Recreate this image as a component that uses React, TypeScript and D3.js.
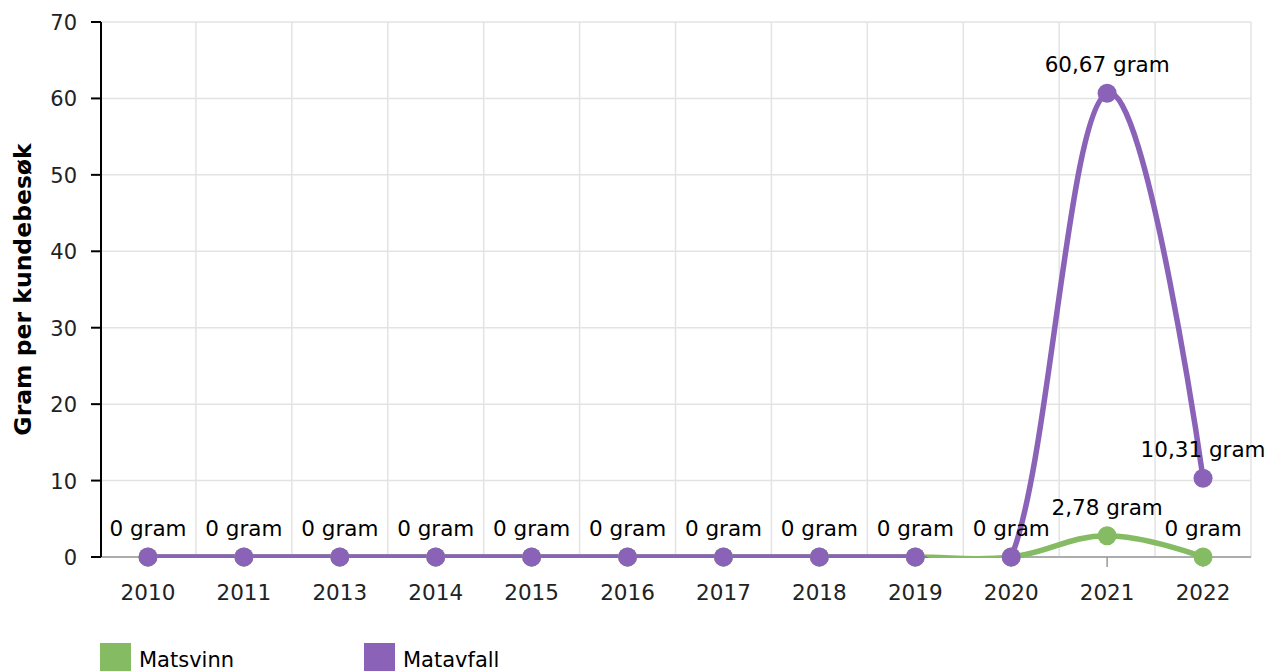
import React from "react";
import * as d3 from "d3";

const categories = ["2010", "2011", "2013", "2014", "2015", "2016", "2017", "2018", "2019", "2020", "2021", "2022"];
const matsvinn = [0, 0, 0, 0, 0, 0, 0, 0, 0, 0, 2.78, 0];
const matavfall = [0, 0, 0, 0, 0, 0, 0, 0, 0, 0, 60.67, 10.31];
const yTicks = [0, 10, 20, 30, 40, 50, 60, 70];
const seriesNames = ["Matsvinn", "Matavfall"];
const colors = ["#84bb63", "#8a62b7"];

const W = 1271, H = 671;
const left = 100, right = 1251, top = 22, bottom = 557;
const FONT = "'DejaVu Sans', Verdana, sans-serif";

function splinePath(pts: [number, number][]) {
  const smoothing = 1.5, denom = 2.5;
  const rc: ([number, number] | null)[] = [];
  let d = `M${pts[0][0]},${pts[0][1]}`;
  for (let i = 0; i < pts.length; i++) {
    const [x, y] = pts[i];
    let lcx = x, lcy = y;
    if (i > 0 && i < pts.length - 1) {
      const [lx, ly] = pts[i - 1];
      const [nx, ny] = pts[i + 1];
      lcx = (smoothing * x + lx) / denom;
      lcy = (smoothing * y + ly) / denom;
      const rcx = (smoothing * x + nx) / denom;
      let rcy = (smoothing * y + ny) / denom;
      let corr = 0;
      if (rcx !== lcx) corr = ((rcy - lcy) * (rcx - x)) / (rcx - lcx) + y - rcy;
      lcy += corr;
      rcy += corr;
      rc[i] = [rcx, rcy];
    } else rc[i] = null;
    if (i > 0) {
      const p = rc[i - 1] || pts[i - 1];
      d += `C${p[0]},${p[1]} ${lcx},${lcy} ${x},${y}`;
    }
  }
  return d;
}

export default function App() {
  const x = d3.scaleBand<string>().domain(categories).range([left, right]);
  const y = d3.scaleLinear().domain([0, 70]).range([bottom, top]);
  const cx = (c: string) => (x(c) as number) + x.bandwidth() / 2;
  const series = [matsvinn, matavfall];
  const pts = series.map((s) => s.map((v, i) => [cx(categories[i]), y(v)] as [number, number]));
  const fmt = (v: number) => `${d3.format(".2~f")(v).replace(".", ",")} gram`;

  const boundaries = categories.map((c) => x(c) as number).concat([right]);

  return (
    <svg width={W} height={H} style={{ position: "absolute", left: 0, top: 0, fontFamily: FONT }}>
      <defs>
        <clipPath id="plotclip">
          <rect x={left} y={0} width={right - left + 20} height={bottom + 1} />
        </clipPath>
      </defs>
      {/* grid */}
      {yTicks.map((t) => (
        <line key={"gy" + t} x1={left} x2={right} y1={y(t)} y2={y(t)} stroke="#e3e3e3" strokeWidth={1.5} />
      ))}
      {boundaries.slice(1).map((b, i) => (
        <line key={"gx" + i} x1={b} x2={b} y1={top} y2={bottom} stroke="#e3e3e3" strokeWidth={1.5} />
      ))}
      {/* x axis */}
      <line x1={left} x2={right} y1={bottom} y2={bottom} stroke="#999" strokeWidth={1.5} />
      {categories.map((c) => (
        <g key={"xt" + c}>
          <line x1={cx(c)} x2={cx(c)} y1={bottom} y2={bottom + 10} stroke="#999" strokeWidth={1.5} />
          <text x={cx(c)} y={600} textAnchor="middle" fontSize={21.5} fill="#222">{c}</text>
        </g>
      ))}
      {/* y axis */}
      <line x1={101} x2={101} y1={top} y2={bottom} stroke="#000" strokeWidth={2} />
      {yTicks.map((t) => (
        <g key={"yt" + t}>
          <line x1={91} x2={101} y1={y(t)} y2={y(t)} stroke="#000" strokeWidth={2} />
          <text x={77} y={y(t) + 8} textAnchor="end" fontSize={21} fill="#222">{t}</text>
        </g>
      ))}
      <text transform={`translate(31,${(top + bottom) / 2}) rotate(-90)`} textAnchor="middle" fontSize={23.5} fontWeight="bold" fill="#000">
        Gram per kundebesøk
      </text>
      {/* lines */}
      <g clipPath="url(#plotclip)">
        {pts.map((p, si) => (
          <path key={"l" + si} d={splinePath(p)} fill="none" stroke={colors[si]} strokeWidth={5.5} strokeLinecap="round" strokeLinejoin="round" />
        ))}
      </g>
      {pts.map((p, si) => (
        <g key={"m" + si}>
          {p.map(([px, py], i) => (
            <circle key={i} cx={px} cy={py} r={9.5} fill={colors[si]} />
          ))}
        </g>
      ))}
      {/* data labels */}
      {series.map((s, si) => (
        <g key={"dl" + si}>
          {s.map((v, i) => {
            const py = y(v);
            if (si === 0 && Math.abs(py - y(matavfall[i])) < 25) return null;
            return (
              <text key={i} x={cx(categories[i])} y={py - 21} textAnchor="middle" fontSize={21.5} fill="#000">
                {fmt(v)}
              </text>
            );
          })}
        </g>
      ))}
      {/* legend */}
      {seriesNames.map((n, i) => (
        <g key={"lg" + n} transform={`translate(${100 + i * 264},643)`}>
          <rect x={0} y={0} width={31} height={31} fill={colors[i]} />
          <text x={39} y={24} fontSize={21} fill="#000">{n}</text>
        </g>
      ))}
    </svg>
  );
}
